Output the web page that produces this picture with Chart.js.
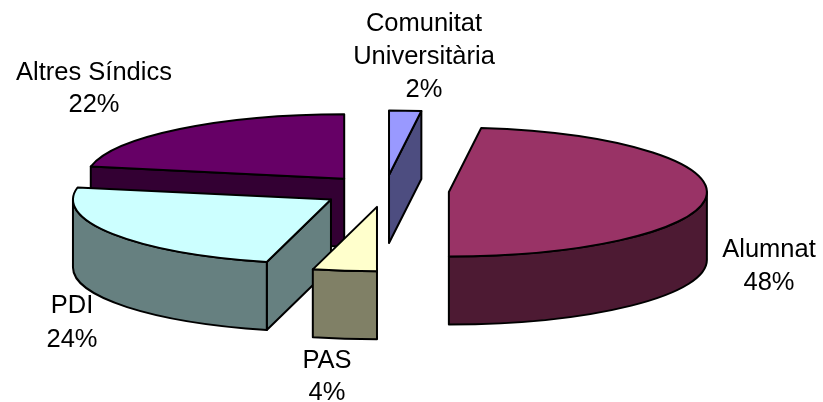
<!DOCTYPE html>
<html>
<head>
<meta charset="utf-8">
<style>
    html, body { margin: 0; padding: 0; background: #fff; }
    #wrap { width: 823px; height: 402px; }
</style>
<script src="https://cdn.jsdelivr.net/npm/chart.js@4/dist/chart.umd.min.js"></script>
</head>
<body>
<div id="wrap"><canvas id="chart" width="823" height="402"></canvas></div>
<script>
const categories = ['Alumnat', 'PAS', 'PDI', 'Altres Síndics', 'Comunitat Universitària'];
const values = [48, 4, 24, 22, 2];
const topColors = ['#993366', '#FFFFCC', '#CCFFFF', '#660066', '#9999FF'];
const wallColors = ['#4D1A33', '#808066', '#668080', '#330033', '#4D4D80'];

// label lines and where each label is centred (x, first baseline, line step)
const labelLines = [['Alumnat', '48%'], ['PAS', '4%'], ['PDI', '24%'], ['Altres Síndics', '22%'], ['Comunitat', 'Universitària', '2%']];
const labelPos = [[769, 257, 33], [327, 368, 32], [72, 313, 34], [94, 80, 32], [424, 31, 33]];

const squash = 0.25;     // vertical squash of the pie
const depth = 68;        // height of the walls
const explode = 64;      // how far slices move out

const pie3d = {
    id: 'pie3d',
    beforeDatasetDraw(chart, args) {
        const ctx = chart.ctx;
        const arcs = chart.getDatasetMeta(args.index).data;

        // back slices first
        const order = arcs.map((a, i) => i).sort((i, j) => {
            const mid = k => (arcs[k].startAngle + arcs[k].endAngle) / 2;
            return Math.sin(mid(i)) - Math.sin(mid(j));
        });

        ctx.lineWidth = 2;
        ctx.lineJoin = 'round';
        ctx.strokeStyle = '#000';

        order.forEach(i => {
            const arc = arcs[i];
            const mid = (arc.startAngle + arc.endAngle) / 2;
            const cx = arc.x + Math.cos(mid) * explode;
            const cy = arc.y + Math.sin(mid) * explode * squash;
            const r = arc.outerRadius;
            const ry = r * squash;

            ctx.fillStyle = wallColors[i];

            // cut faces, only the ones turned to the viewer
            const faces = [];
            if (Math.cos(arc.startAngle) < -1e-6) faces.push(arc.startAngle);
            if (Math.cos(arc.endAngle) > 1e-6) faces.push(arc.endAngle);
            faces.forEach(a => {
                const rimX = cx + Math.cos(a) * r;
                const rimY = cy + Math.sin(a) * ry;
                ctx.beginPath();
                ctx.moveTo(cx, cy);
                ctx.lineTo(rimX, rimY);
                ctx.lineTo(rimX, rimY + depth);
                ctx.lineTo(cx, cy + depth);
                ctx.closePath();
                ctx.fill();
                ctx.stroke();
            });

            // rim wall, only the part facing the viewer
            const twoPi = Math.PI * 2;
            const start = ((arc.startAngle % twoPi) + twoPi) % twoPi;
            const end = start + (arc.endAngle - arc.startAngle);
            [0, twoPi].forEach(base => {
                const lo = Math.max(start, base);
                const hi = Math.min(end, base + Math.PI);
                if (hi <= lo) return;
                ctx.beginPath();
                ctx.ellipse(cx, cy, r, ry, 0, lo, hi);
                ctx.ellipse(cx, cy + depth, r, ry, 0, hi, lo, true);
                ctx.closePath();
                ctx.fill();
                ctx.stroke();
            });

            // top face: the library's own arc, squashed and moved out
            ctx.save();
            ctx.translate(cx, cy);
            ctx.scale(1, squash);
            ctx.translate(-arc.x, -arc.y);
            arc.draw(ctx);
            ctx.restore();

            // outline stroked outside the squash so the line stays even
            ctx.save();
            ctx.translate(cx, cy);
            ctx.scale(1, squash);
            ctx.beginPath();
            ctx.moveTo(0, 0);
            ctx.arc(0, 0, r, arc.startAngle, arc.endAngle);
            ctx.closePath();
            ctx.restore();
            ctx.stroke();
        });

        // labels
        ctx.fillStyle = '#000';
        ctx.font = '25.5px "Liberation Sans", Arial, sans-serif';
        ctx.textAlign = 'center';
        ctx.textBaseline = 'alphabetic';
        labelLines.forEach((lines, i) => {
            const [x, y, lead] = labelPos[i];
            lines.forEach((line, n) => ctx.fillText(line, x, y + n * lead));
        });

        return false;
    }
};

new Chart(document.getElementById('chart').getContext('2d'), {
    type: 'pie',
    data: {
        labels: categories,
        datasets: [{
            data: values,
            backgroundColor: topColors,
            borderWidth: 0
        }]
    },
    options: {
        responsive: false,
        animation: false,
        rotation: 7.2,
        radius: 258,
        layout: { padding: { right: 53, bottom: 20 } },
        plugins: {
            legend: { display: false },
            tooltip: { enabled: false }
        }
    },
    plugins: [pie3d]
});
</script>
</body>
</html>
